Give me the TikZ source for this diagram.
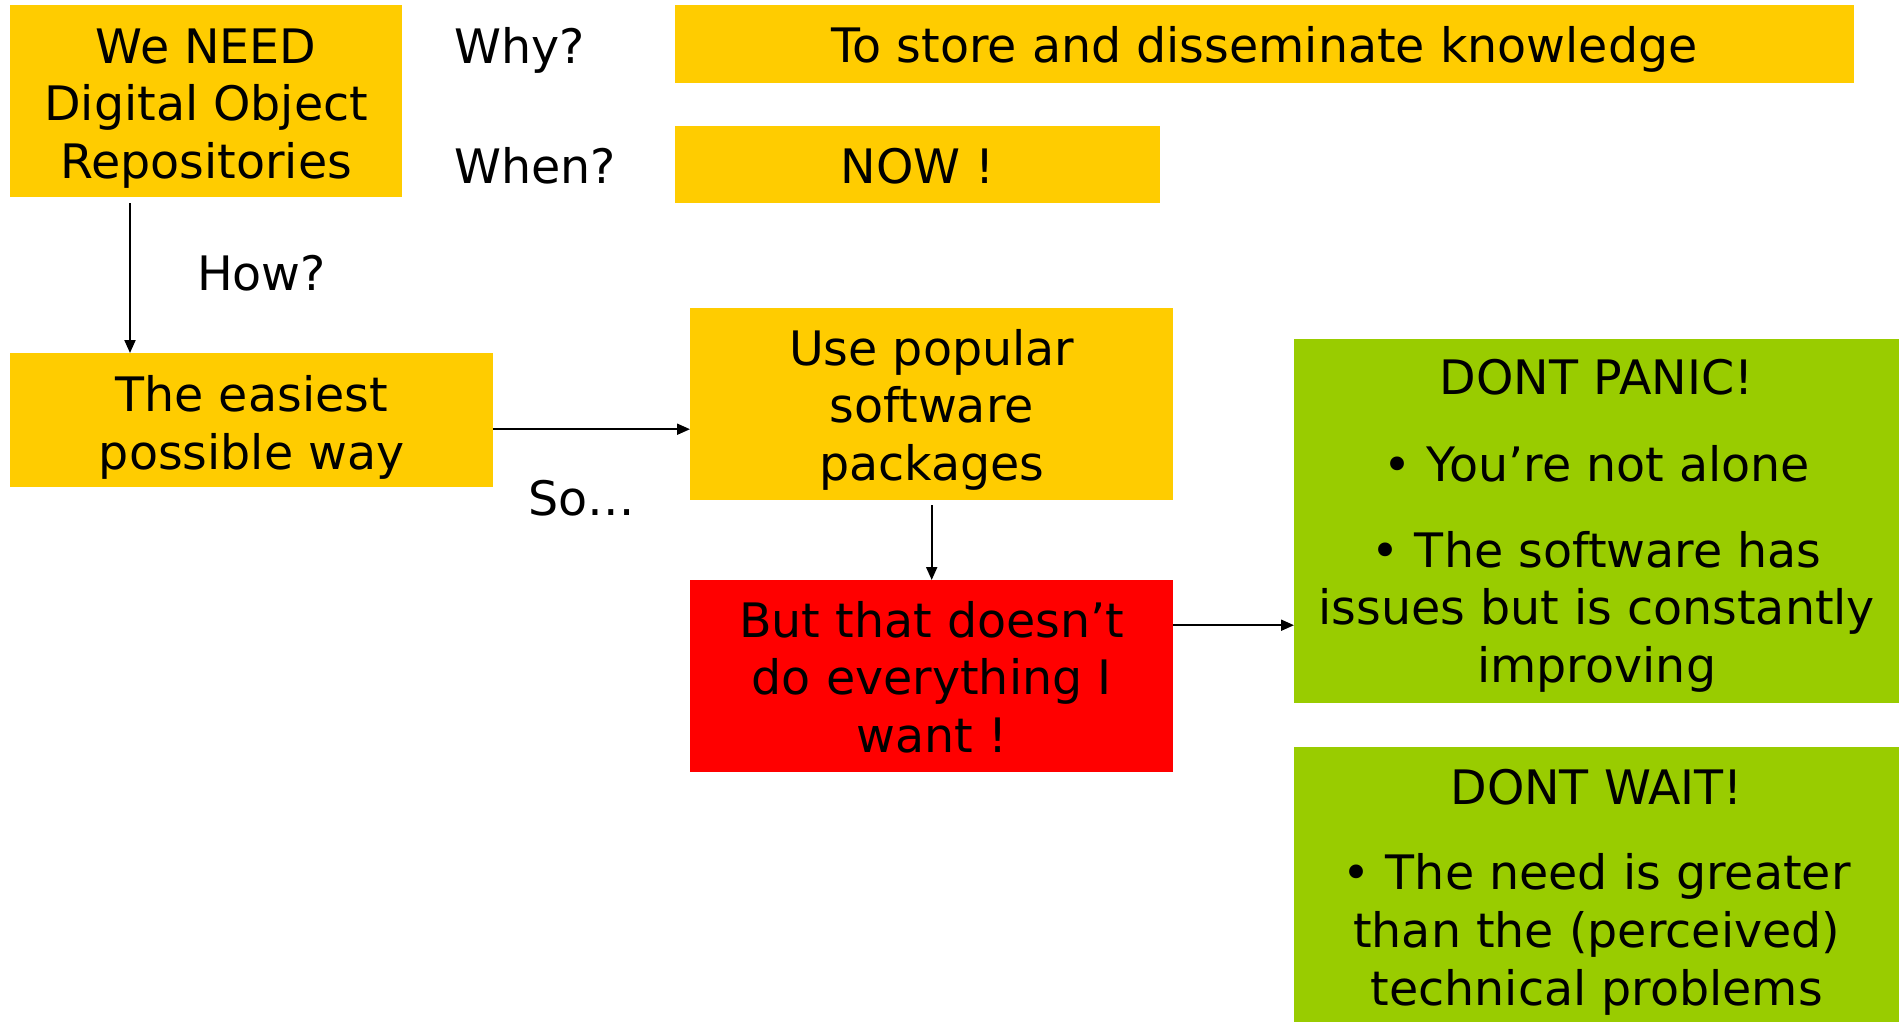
\documentclass[tikz,border=0pt]{standalone}
\usepackage{fontspec}
\setmainfont{DejaVu Sans}
\usetikzlibrary{arrows.meta}
\definecolor{boxyellow}{HTML}{FFCC00}
\definecolor{boxred}{HTML}{FF0000}
\definecolor{boxgreen}{HTML}{99CC00}
\newcommand{\lowtext}[2]{\raisebox{-#1}[\height][\depth]{\begin{tabular}{@{}c@{}}#2\end{tabular}}}
\tikzset{
  txt/.style={font=\fontsize{47.5}{57.7}\selectfont, text=black},
  box/.style={txt, inner sep=0pt, anchor=north west},
  ybox/.style={box, fill=boxyellow},
  rbox/.style={box, fill=boxred},
  gbox/.style={box, fill=boxgreen},
  lbl/.style={txt, inner sep=0pt, anchor=base west},
  arr/.style={draw=black, line width=2pt, -{Triangle[length=13pt,width=11pt]}}
}
\begin{document}
\begin{tikzpicture}[x=1pt,y=-1pt]
\useasboundingbox (0,0) rectangle (1904,1021);
% boxes
\node[ybox, minimum width=392pt, minimum height=192pt] (need) at (10,5) {\lowtext{8pt}{We NEED\\Digital Object\\Repositories}};
\node[ybox, minimum width=1179pt, minimum height=78pt] (store) at (675,5) {\lowtext{7pt}{To store and disseminate knowledge}};
\node[ybox, minimum width=485pt, minimum height=77pt] (now) at (675,126) {\lowtext{7pt}{NOW !}};
\node[ybox, minimum width=483pt, minimum height=134pt] (easy) at (10,353) {\lowtext{9pt}{The easiest\\possible way}};
\node[ybox, minimum width=483pt, minimum height=192pt] (use) at (690,308) {\lowtext{7pt}{Use popular\\software\\packages}};
\node[rbox, minimum width=483pt, minimum height=192pt] (but) at (690,580) {\lowtext{7pt}{But that doesn’t\\do everything I\\want !}};
\node[gbox, minimum width=605pt, minimum height=364pt] (panic) at (1294,339) {\lowtext{6pt}{DONT PANIC!\\[29pt]• You’re not alone\\[28pt]• The software has\\issues but is constantly\\improving}};
\node[gbox, minimum width=605pt, minimum height=282pt] (wait) at (1294,747) {\lowtext{5pt}{DONT WAIT!\\[28pt]• The need is greater\\than the (perceived)\\technical problems}};
% labels
\node[lbl] (why) at (454,63) {Why?};
\node[lbl] (when) at (454,183) {When?};
\node[lbl] (how) at (197,290) {How?};
\node[lbl] (so) at (528,515) {So…};
% connectors
\draw[arr, shorten <=6pt] ([xshift=120pt]need.south west) -- ([xshift=120pt]easy.north west);
\draw[arr] ([yshift=-9pt]easy.east) -- ([yshift=-9pt]easy.east -| use.west);
\draw[arr, shorten <=5pt] (use.south) -- (but.north);
\draw[arr] ([yshift=51pt]but.east) -- ([yshift=51pt]but.east -| panic.west);
\end{tikzpicture}
\end{document}
